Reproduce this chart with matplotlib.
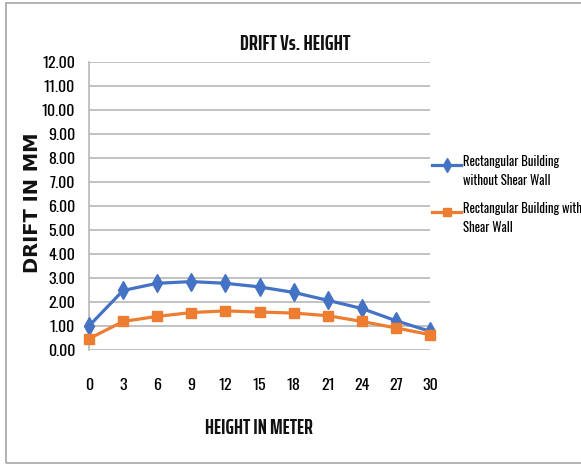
import matplotlib
matplotlib.use("Agg")
import matplotlib.pyplot as plt
from matplotlib.patches import Rectangle
from matplotlib.lines import Line2D

heights = [0, 3, 6, 9, 12, 15, 18, 21, 24, 27, 30]
drift_without = [1.00, 2.48, 2.78, 2.85, 2.78, 2.63, 2.40, 2.07, 1.73, 1.22, 0.78]
drift_with = [0.47, 1.19, 1.40, 1.56, 1.63, 1.58, 1.54, 1.43, 1.19, 0.92, 0.64]
labels = ["Rectangular Building\nwithout Shear Wall", "Rectangular Building with\nShear Wall"]
yticks = list(range(0, 13))

narrow = ["Oswald", "PT Sans Narrow", "DejaVu Sans"]
narrow_bold = ["Saira ExtraCondensed", "PT Sans Narrow", "DejaVu Sans"]
BLUE, ORANGE = "#4472C4", "#ED7D31"

fig = plt.figure(figsize=(5.81, 4.65), dpi=100)
fig.patches.append(Rectangle((6/581, 2/465), 1, 1 - 5/465, transform=fig.transFigure,
                             fill=False, edgecolor="#a6a6a6", linewidth=1.2))
ax = fig.add_axes([89/581, 1 - 350/465, 341/581, 288/465])

ax.plot(heights, drift_without, color=BLUE, lw=2.3, marker="d", ms=9,
        mfc=BLUE, mec=BLUE, clip_on=False, zorder=3)
ax.plot(heights, drift_with, color=ORANGE, lw=2.3, marker="s", ms=7,
        mfc=ORANGE, mec=ORANGE, clip_on=False, zorder=3)

ax.set_xlim(0, 30)
ax.set_ylim(0, 12)
ax.set_xticks(heights)
ax.set_yticks(yticks)
ax.set_yticklabels([f"{v:.2f}" for v in yticks])
ax.grid(axis="y", color="#b8b8b8", lw=1.2)
ax.set_axisbelow(True)
for s in ["top", "right", "bottom"]:
    ax.spines[s].set_visible(False)
ax.spines["left"].set_color("#b8b8b8")
ax.spines["left"].set_linewidth(1.2)
ax.tick_params(length=0)
ax.tick_params(axis="x", pad=20)
ax.tick_params(axis="y", pad=10)
for t in ax.get_xticklabels() + ax.get_yticklabels():
    t.set_fontfamily(narrow)
    t.set_fontsize(11.5)
    t.set_color("#000000")

fig.text(295/581, 1 - 44/465, "DRIFT Vs. HEIGHT", ha="center", va="center",
         fontfamily=narrow_bold, fontweight="bold", fontsize=15.5, color="#111111")
fig.text(259/581, 1 - 428/465, "HEIGHT IN METER", ha="center", va="center",
         fontfamily=narrow_bold, fontweight="bold", fontsize=15, color="#111111")
fig.text(33/581, 1 - 203/465, "DRIFT IN MM", ha="center", va="center", rotation=90,
         fontfamily="DejaVu Sans", fontweight="bold", fontsize=14, color="#111111")

# legend, drawn beside the plot
for i, (lab, col, mk, ms) in enumerate([(labels[0], BLUE, "d", 7), (labels[1], ORANGE, "s", 5.5)]):
    y = 1 - (165 + 47 * i) / 465
    fig.add_artist(Line2D([432/581, 461/581], [y, y], transform=fig.transFigure, color=col, lw=2.3))
    fig.add_artist(Line2D([446.5/581], [y], transform=fig.transFigure, color=col, marker=mk, ms=ms, lw=0))
    fig.text(463/581, y + 10/465, lab, ha="left", va="top", fontfamily=narrow, fontsize=9.2,
             color="#000000", linespacing=1.5)

fig.savefig("out.png", dpi=100)
